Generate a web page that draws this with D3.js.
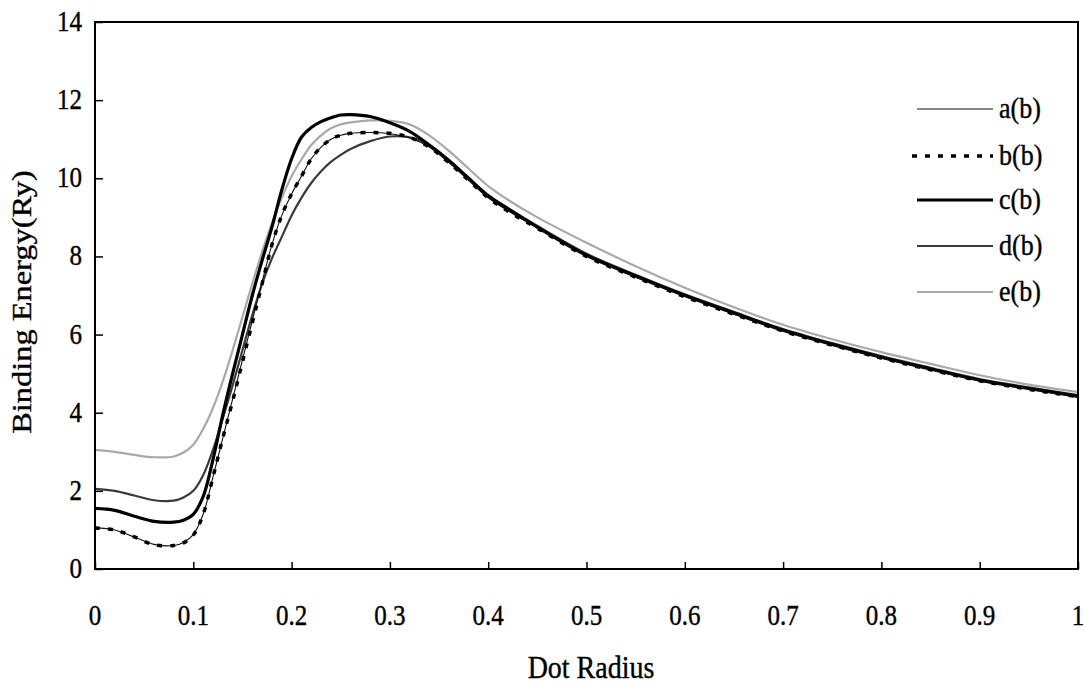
<!DOCTYPE html>
<html><head><meta charset="utf-8">
<script src="https://cdn.jsdelivr.net/npm/d3@7"></script>
<style>
html,body{margin:0;padding:0;background:#fff;}
</style></head>
<body><svg id="chart" width="1085" height="685"></svg>
<script>
const xValues = [0,0.02,0.04,0.06,0.08,0.09,0.1,0.11,0.12,0.13,0.14,0.15,0.16,0.17,0.18,0.19,0.2,0.21,0.22,0.23,0.24,0.25,0.26,0.28,0.3,0.32,0.34,0.36,0.38,0.4,0.42,0.45,0.5,0.55,0.6,0.65,0.7,0.75,0.8,0.85,0.9,0.95,1.0];
const seriesA = [1.06,1.0,0.82,0.63,0.6,0.68,0.88,1.4,2.35,3.35,4.35,5.35,6.35,7.35,8.3,9.05,9.6,10.05,10.5,10.8,11.0,11.1,11.15,11.17,11.14,11.03,10.8,10.4,9.95,9.5,9.17,8.73,8.01,7.47,6.98,6.52,6.09,5.73,5.4,5.1,4.82,4.6,4.41];
const seriesB = [1.05,1.0,0.82,0.62,0.6,0.67,0.87,1.4,2.35,3.35,4.3,5.3,6.3,7.3,8.3,9.05,9.6,10.05,10.5,10.8,11.0,11.1,11.15,11.17,11.15,11.05,10.8,10.4,9.95,9.5,9.16,8.72,8.0,7.47,6.97,6.52,6.09,5.73,5.4,5.1,4.82,4.6,4.41];
const seriesC = [1.55,1.5,1.35,1.22,1.2,1.25,1.4,1.85,2.8,3.95,5.0,6.0,7.0,7.9,8.75,9.7,10.5,11.05,11.3,11.45,11.55,11.62,11.63,11.58,11.42,11.2,10.85,10.45,10.0,9.55,9.22,8.75,8.03,7.5,7.0,6.55,6.11,5.75,5.42,5.12,4.83,4.62,4.42];
const seriesD = [2.05,2.0,1.88,1.76,1.75,1.83,2.0,2.4,3.05,3.85,4.7,5.6,6.5,7.3,7.95,8.5,9.05,9.5,9.88,10.18,10.42,10.6,10.75,10.95,11.07,11.05,10.85,10.47,10.02,9.57,9.24,8.78,8.07,7.53,7.03,6.58,6.14,5.78,5.45,5.15,4.86,4.65,4.45];
const seriesE = [3.05,3.0,2.92,2.86,2.88,2.98,3.18,3.58,4.12,4.8,5.6,6.45,7.3,8.12,8.85,9.5,10.05,10.48,10.85,11.1,11.28,11.38,11.43,11.48,11.47,11.38,11.1,10.7,10.25,9.8,9.45,9.0,8.35,7.75,7.2,6.7,6.25,5.88,5.55,5.25,4.96,4.72,4.53];
const seriesNames = ["a(b)","b(b)","c(b)","d(b)","e(b)"];
const xTicks = [0,0.1,0.2,0.3,0.4,0.5,0.6,0.7,0.8,0.9,1];
const xTickLabels = ["0","0.1","0.2","0.3","0.4","0.5","0.6","0.7","0.8","0.9","1"];
const yTicks = [0,2,4,6,8,10,12,14];
const xTitle = "Dot Radius";
const yTitle = "Binding Energy(Ry)";

const FONT = "'Liberation Serif','Times New Roman',Times,serif";
const styles = [
  {stroke:"#111", width:1.1, dash:null},
  {stroke:"#000", width:3.5, dash:"5,8"},
  {stroke:"#000", width:3.2, dash:null},
  {stroke:"#3a3a3a", width:2.2, dash:null},
  {stroke:"#a9a9a9", width:2.2, dash:null}
];
const allSeries = [seriesA,seriesB,seriesC,seriesD,seriesE];

const svg = d3.select("#chart");
const L = 95, R = 1078, T = 22, B = 569;
const x = d3.scaleLinear().domain([0,1]).range([L,R]);
const y = d3.scaleLinear().domain([0,14]).range([B,T]);

function txt(sel){ return sel.attr("font-family",FONT).attr("fill","#000").attr("stroke","#000").attr("stroke-width",0.35); }

// lines
const line = d3.line().x(d=>x(d[0])).y(d=>y(d[1])).curve(d3.curveCatmullRom.alpha(0.5));
const drawOrder = [4,3,2,0,1];
drawOrder.forEach(i=>{
  const s = styles[i];
  const p = svg.append("path")
    .datum(xValues.map((v,j)=>[v, allSeries[i][j]]))
    .attr("d", line).attr("fill","none")
    .attr("stroke", s.stroke).attr("stroke-width", s.width)
    .attr("stroke-linejoin","round");
  if (s.dash) p.attr("stroke-dasharray", s.dash).attr("stroke-linecap","butt");
});

// frame
svg.append("rect").attr("x",L).attr("y",T).attr("width",R-L).attr("height",B-T)
  .attr("fill","none").attr("stroke","#000").attr("stroke-width",2);

// axes with inward ticks
const xAxis = d3.axisBottom(x).tickValues(xTicks).tickSize(-7).tickFormat((d,i)=>xTickLabels[i]);
const gx = svg.append("g").attr("transform",`translate(0,${B})`).call(xAxis);
gx.select(".domain").remove();
gx.selectAll(".tick line").attr("stroke","#000").attr("stroke-width",1.5);
gx.selectAll(".tick text").remove();
xTicks.forEach((t,i)=>{
  txt(svg.append("text")).attr("transform",`translate(${x(t)},${625}) scale(1,1.15)`)
    .attr("text-anchor","middle").attr("font-size",25).text(xTickLabels[i]);
});

const yAxis = d3.axisLeft(y).tickValues(yTicks).tickSize(-8).tickFormat(d3.format("d"));
const gy = svg.append("g").attr("transform",`translate(${L},0)`).call(yAxis);
gy.select(".domain").remove();
gy.selectAll(".tick line").attr("stroke","#000").attr("stroke-width",1.5);
gy.selectAll(".tick text").remove();
yTicks.forEach(t=>{
  txt(svg.append("text")).attr("transform",`translate(82,${y(t)+9}) scale(1,1.15)`)
    .attr("text-anchor","end").attr("font-size",25).text(t);
});

// titles
txt(svg.append("text")).attr("transform","translate(591,678) scale(1,1.1)")
  .attr("text-anchor","middle").attr("font-size",28).text(xTitle);
txt(svg.append("text")).attr("transform","translate(31,302) rotate(-90) scale(1.2,1)")
  .attr("text-anchor","middle").attr("font-size",27).text(yTitle);

// legend
const legY = [109,156,200,246,292];
seriesNames.forEach((n,i)=>{
  const s = styles[i];
  const l = svg.append("line").attr("x1",917).attr("x2",993).attr("y1",legY[i]).attr("y2",legY[i])
    .attr("stroke",s.stroke).attr("stroke-width",s.width);
  if (s.dash) l.attr("stroke-dasharray",s.dash).attr("x1",912);
  txt(svg.append("text")).attr("transform",`translate(999,${legY[i]+9}) scale(1,1.15)`)
    .attr("font-size",26).text(n);
});
</script></body></html>
